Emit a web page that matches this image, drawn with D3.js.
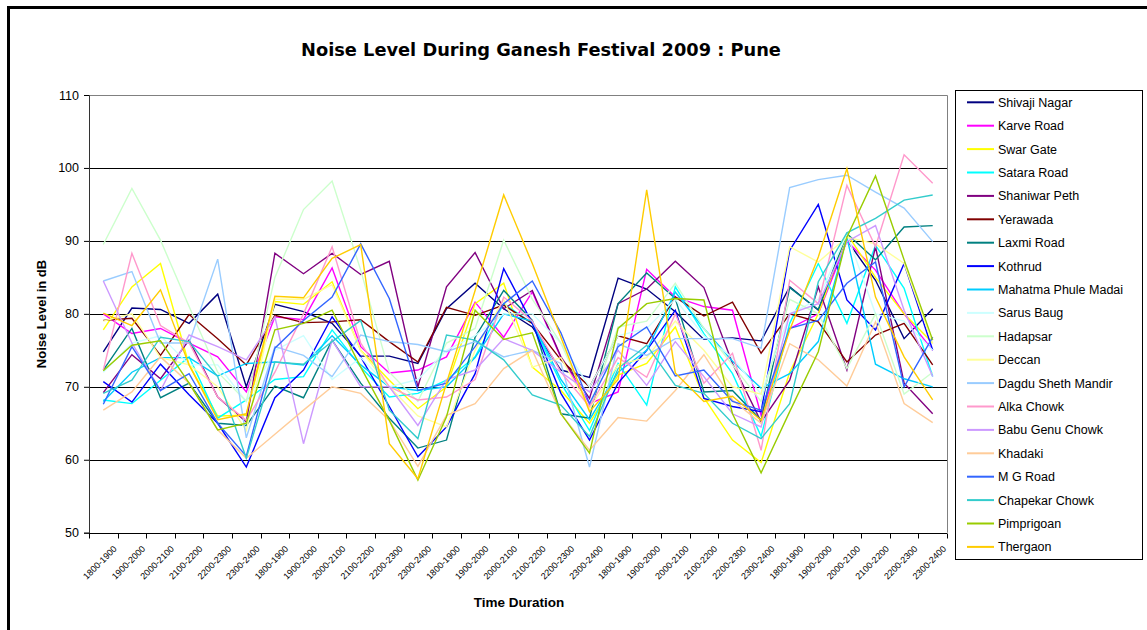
<!DOCTYPE html>
<html>
<head>
<meta charset="utf-8">
<script src="https://cdn.jsdelivr.net/npm/d3@7"></script>
<style>
  body { margin: 0; background: #fff; }
  svg { display: block; font-family: "Liberation Sans", Arial, sans-serif; }
</style>
</head>
<body>
<script>
// time slots, repeated over five days
const slots = ['1800-1900','1900-2000','2000-2100','2100-2200','2200-2300','2300-2400'];
const durations = d3.range(5).flatMap(() => slots);

const places = ['Shivaji Nagar','Karve Road','Swar Gate','Satara Road','Shaniwar Peth','Yerawada',
  'Laxmi Road','Kothrud','Mahatma Phule Madai','Sarus Baug','Hadapsar','Deccan','Dagdu Sheth Mandir',
  'Alka Chowk','Babu Genu Chowk','Khadaki','M G Road','Chapekar Chowk','Pimprigoan','Thergaon'];

const colours = ['#000080','#FF00FF','#FFFF00','#00FFFF','#800080','#800000','#008080','#0000FF',
  '#00CCFF','#CCFFFF','#CCFFCC','#FFFF99','#99CCFF','#FF99CC','#CC99FF','#FFCC99','#3366FF',
  '#33CCCC','#99CC00','#FFCC00'];

// noise level in dB, one row per place
const shivajiNagar = [74.8,80.8,80.6,78.7,82.7,70.0,81.3,80.3,78.7,74.2,74.2,73.2,80.7,84.2,80.7,78.2,72.3,71.3,84.9,83.4,80.3,76.5,76.7,76.3,83.7,80.5,90.1,84.6,76.6,80.7];
const karveRoad = [80,77.3,78,76,74.1,69.3,79.6,79.2,86.3,75.5,71.9,72.3,74.1,81.6,76.8,83,74,67.7,69.3,86.1,82.3,81,80.5,66.1,78,80,90,86,80,75];
const swarGate = [77.8,83.7,86.9,73,66,66.1,81.7,81.3,84.4,75,70.9,67,70,81.4,84.2,72.7,69.5,65,71.6,73.2,78.2,68.5,62.7,59.6,72,80,91,85,80,76];
const sataraRoad = [68.2,67.7,70.9,74.1,65.7,68.2,71,71.4,77.8,72.7,68.6,69.1,70.9,74.1,81.4,78.7,70.5,64,73.2,67.5,83.7,77.3,71.8,63.2,78.7,86.9,78.7,89.4,83.5,71.4];
const shaniwarPeth = [69.2,74.4,71.1,76.4,68.6,65.2,88.3,85.5,88.3,85.4,87.2,70,83.7,88.4,80.7,83.2,74.1,68.4,81.4,83.4,87.2,83.6,73.2,65.2,70.9,83.7,72.3,89.2,70.5,66.3];
const yerawada = [79.1,79.4,74.3,79.9,76.6,73,79.8,78.8,78.9,79.2,76.2,73.4,80.9,79.8,81.2,78.7,73.7,70,77,75.9,82.3,79.7,81.6,74.6,80,78.9,73.4,77.1,78.7,73];
const laxmiRoad = [72.3,78,68.5,70.5,65,64.7,70.1,68.5,76.4,70.5,65.7,61.6,62.7,76.8,83.2,79.1,66.3,65.7,81.4,85.6,82.1,69.3,69.5,65.4,83.6,80.6,91,87.4,91.9,92.1];
const kothrud = [70.7,67.9,73.1,68.9,65,59,68.5,72.3,79.6,74.1,67.3,60.4,64.5,71.8,86.2,78.7,69.1,62.7,70.5,75,80.5,68.4,67.3,66.6,88.7,95,81.9,77.8,86.9,75];
const phuleMadai = [68,72,74,74,71.5,73.2,73.4,73,77,73,70,69.5,70,74,80,79,71,65.5,72,75,83,78,73.5,69.8,71.8,76.2,90.5,73.1,71.1,70];
const sarusBaug = [72,76,77,73,73,68,75,77,71,74,70,71,75,77,80,80,76,70,77,78,82,77,74,69,80,82,91,80,79,75];
const hadapsar = [89.5,97.2,90.1,81,72,68,85,94.3,98.2,86,72,68,76,78,90.1,82,76,67,78.2,79,84.2,78,73,68,82,80,72.5,80,69,72];
const deccan = [79,80,74,73,70,64,82,82,84,75,70,66,64.5,75,82,72.7,74,67,73,74,79,75,70,69,89.2,87.1,90.5,89.6,86.9,75.9];
const dagduSheth = [84.5,85.8,76,76,87.5,63,75.5,74.3,71.4,77.1,76.2,75.8,74.8,76.2,74.1,75,73.2,59,75.9,74.3,76.6,76.6,76.6,75.3,97.3,98.4,99,96.7,94.5,89.9];
const alkaChowk = [72.3,88.3,78.4,76,68.6,65.4,72,80,89.2,76,70,68.2,68.6,71,82.3,79,72,67.3,74,71.3,80,70.5,74.6,61.3,84.6,81.4,97.6,89.2,101.8,97.9];
const babuGenu = [84.5,76,69.5,77.1,75.5,73.7,79.6,62.2,76.4,70,70,64.7,71,72.3,76.6,75,72,69.3,75,70.2,76.2,71.4,66.3,64.5,80,81.4,89.9,92.1,80.5,71.4];
const khadaki = [66.8,69.3,74.1,70.5,64.1,60.2,63.5,66.8,70,69.1,65.4,59.1,66.1,67.7,72.5,75,66.3,61.3,65.8,65.3,69.5,74.4,68.2,65,75.9,73.7,70.1,78.9,67.7,65.1];
const mgRoad = [67.6,75.5,69.5,71.8,65,60.5,75.3,79.1,82.3,89.6,82.1,69.5,70.5,75.5,81.4,84.5,77.4,67.7,75.5,78.2,71.5,72.3,68,66.8,78,79.1,84.2,87.1,70,76.8];
const chapekarChowk = [69.1,70.9,76.8,76.2,71.4,60.2,73.4,73.1,76.2,79.1,66.8,62.9,77.1,76.4,73.7,68.9,67.5,63.2,72.5,75.7,70.2,69.1,65,62.9,67.7,84.4,91.1,93.1,95.6,96.3];
const pimprigoan = [72.2,75.7,76.3,70.5,64.1,65,77.8,78.7,80.5,72.7,65.4,57.2,65.9,80.5,76.5,77.4,66.3,60.9,78,81.4,82.1,81.9,66.3,58.2,66.6,74.8,90.5,98.9,87.4,76.4];
const thergaon = [80.1,78.4,83.3,73,65.5,66.3,82.4,82.2,87.6,89.5,62.2,57.4,70.5,83.2,96.3,86.9,76.8,66.6,71,97,71.9,68,68.7,65.4,77.8,87.8,99.9,82.3,74.1,68.2];

const levels = [shivajiNagar,karveRoad,swarGate,sataraRoad,shaniwarPeth,yerawada,laxmiRoad,kothrud,
  phuleMadai,sarusBaug,hadapsar,deccan,dagduSheth,alkaChowk,babuGenu,khadaki,mgRoad,chapekarChowk,
  pimprigoan,thergaon];
const yTicks = [50,60,70,80,90,100,110];

const W = 1147, H = 630;
const m = {left: 89, right: 947, top: 95, bottom: 532.7};

const svg = d3.select('body').append('svg')
  .attr('width', W)
  .attr('height', H);

// frame of the chart object
svg.append('rect')
  .attr('x', 8.5).attr('y', 7.5)
  .attr('width', W + 20).attr('height', H + 20)
  .attr('fill', 'none').attr('stroke', '#000').attr('stroke-width', 3);

const x = d3.scaleBand()
  .domain(d3.range(durations.length))
  .range([m.left, m.right]);
const y = d3.scaleLinear()
  .domain([50, 110])
  .range([m.bottom, m.top]);

// gridlines
svg.append('g')
  .selectAll('line')
  .data(yTicks.slice(1, -1))
  .join('line')
  .attr('x1', m.left).attr('x2', m.right)
  .attr('y1', d => Math.round(y(d)) + 0.5).attr('y2', d => Math.round(y(d)) + 0.5)
  .attr('stroke', '#000');

// plot border, grey
svg.append('path')
  .attr('d', `M${m.left},${Math.round(m.top) + 0.5}H${m.right + 0.5}V${m.bottom}`)
  .attr('fill', 'none').attr('stroke', '#808080');

// lines
const line = d3.line()
  .x((d, i) => x(i) + x.bandwidth() / 2)
  .y(d => y(d));

svg.append('g')
  .selectAll('path')
  .data(levels)
  .join('path')
  .attr('d', line)
  .attr('fill', 'none')
  .attr('stroke', (d, i) => colours[i])
  .attr('stroke-width', 1.4)
  .attr('stroke-linejoin', 'miter');

// y axis
const yAxis = svg.append('g')
  .attr('transform', `translate(${m.left},0)`)
  .call(d3.axisLeft(y).tickValues(yTicks).tickSize(5).tickPadding(5));
yAxis.select('.domain').attr('stroke', '#333');
yAxis.selectAll('text').attr('font-size', 12.5).attr('fill', '#000');

// x axis, ticks on category boundaries
const xAxis = svg.append('g')
  .attr('transform', `translate(0,${Math.round(m.bottom) + 0.5})`);
xAxis.append('line')
  .attr('x1', m.left).attr('x2', m.right)
  .attr('stroke', '#000');
xAxis.selectAll('line.tk')
  .data(d3.range(durations.length + 1))
  .join('line')
  .attr('class', 'tk')
  .attr('x1', i => Math.round(m.left + i * x.step()) + 0.5)
  .attr('x2', i => Math.round(m.left + i * x.step()) + 0.5)
  .attr('y1', 0).attr('y2', 5)
  .attr('stroke', '#000');
xAxis.selectAll('text')
  .data(durations)
  .join('text')
  .attr('transform', (d, i) => `translate(${x(i) + x.bandwidth() / 2 + 14},${16}) rotate(-45)`)
  .attr('text-anchor', 'end')
  .attr('font-size', 9)
  .attr('fill', '#000')
  .text(d => d);

// titles
svg.append('text')
  .attr('x', 541).attr('y', 56)
  .attr('text-anchor', 'middle')
  .attr('font-family', '"DejaVu Sans", sans-serif')
  .attr('font-size', 17.8).attr('font-weight', 'bold')
  .text('Noise Level During Ganesh Festival 2009 : Pune');

svg.append('text')
  .attr('x', 519).attr('y', 607)
  .attr('text-anchor', 'middle')
  .attr('font-size', 13.5).attr('font-weight', 'bold')
  .text('Time Duration');

svg.append('text')
  .attr('transform', 'translate(46,314) rotate(-90)')
  .attr('text-anchor', 'middle')
  .attr('font-size', 13).attr('font-weight', 'bold')
  .text('Noise Level in dB');

// legend
const legend = svg.append('g');
legend.append('rect')
  .attr('x', 955.5).attr('y', 90.5)
  .attr('width', 187).attr('height', 469)
  .attr('fill', '#fff').attr('stroke', '#000');

const item = legend.selectAll('g.item')
  .data(places)
  .join('g')
  .attr('class', 'item')
  .attr('transform', (d, i) => `translate(0,${102.3 + i * 23.4})`);
item.append('line')
  .attr('x1', 967).attr('x2', 994)
  .attr('stroke', (d, i) => colours[i])
  .attr('stroke-width', 2);
item.append('text')
  .attr('x', 998).attr('y', 4.5)
  .attr('font-size', 12.5)
  .attr('fill', '#000')
  .text(d => d);
</script>
</body>
</html>
